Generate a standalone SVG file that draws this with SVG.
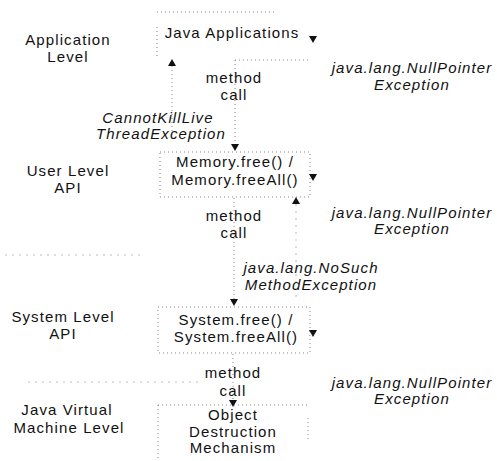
<svg xmlns="http://www.w3.org/2000/svg" width="497" height="461" viewBox="0 0 497 461">
<defs>
<style>
text{font-family:"Liberation Sans",Arial,sans-serif;font-size:15px;fill:#111;letter-spacing:1.1px}
.lv{text-anchor:middle}
.bx{text-anchor:middle}
.ex{font-style:italic;text-anchor:middle}
.dot{fill:none;stroke:#888;stroke-width:1;stroke-dasharray:1 3}
.faint{fill:none;stroke:#bbb;stroke-width:1;stroke-dasharray:2 5}
</style>
<polygon id="dn" points="-4,-4 4,-4 0,3" fill="#111"/>
<polygon id="up" points="-4,4 4,4 0,-3" fill="#111"/>
</defs>
<rect width="497" height="461" fill="#fff"/>

<g id="levels">
<text class="lv" x="68" y="45">Application</text>
<text class="lv" x="68" y="62">Level</text>
<text class="lv" x="68" y="176">User Level</text>
<text class="lv" x="68" y="193">API</text>
<text class="lv" x="63" y="322">System Level</text>
<text class="lv" x="63" y="339">API</text>
<text class="lv" x="67" y="415">Java Virtual</text>
<text class="lv" x="69" y="433">Machine Level</text>
</g>

<g id="separators">
<line class="faint" x1="5" y1="255" x2="145" y2="255"/>
<line class="faint" x1="28" y1="382" x2="203" y2="382"/>
</g>

<g id="node-java-applications">
<path class="dot" d="M157,12 H277 M157,27 V58"/>
<text class="bx" x="232" y="38">Java Applications</text>
</g>

<g id="node-memory">
<rect class="dot" x="160" y="152" width="150" height="45"/>
<text class="bx" x="235" y="167">Memory.free() /</text>
<text class="bx" x="235" y="185">Memory.freeAll()</text>
</g>

<g id="node-system">
<rect class="dot" x="158" y="307" width="152" height="46"/>
<text class="bx" x="236" y="325">System.free() /</text>
<text class="bx" x="236" y="342">System.freeAll()</text>
</g>

<g id="node-object-destruction">
<path class="dot" d="M158,405 H308 M158,405 V458 M308,418 V440"/>
<text class="bx" x="233" y="420">Object</text>
<text class="bx" x="233" y="437">Destruction</text>
<text class="bx" x="233" y="453">Mechanism</text>
</g>

<g id="connectors">
<path class="dot" d="M235,60 H308 M235,60 V146"/>
<use href="#dn" x="235" y="148"/>
<path class="dot" d="M172,66 V140"/>
<use href="#up" x="172" y="62"/>
<use href="#dn" x="313" y="40"/>
<path class="dot" d="M234,198 V300"/>
<use href="#dn" x="234" y="303"/>
<use href="#dn" x="313" y="178"/>
<path class="faint" d="M296,204 V300"/>
<use href="#up" x="296" y="200"/>
<use href="#dn" x="313" y="334"/>
<path class="dot" d="M233,354 V401"/>
<use href="#dn" x="233" y="404"/>
</g>

<g id="labels">
<text class="bx" x="234" y="83">method</text>
<text class="bx" x="234" y="100">call</text>
<text class="bx" x="234" y="221">method</text>
<text class="bx" x="234" y="238">call</text>
<text class="bx" x="233" y="378">method</text>
<text class="bx" x="233" y="396">call</text>
<text class="ex" x="158" y="123">CannotKillLive</text>
<text class="ex" x="161" y="139">ThreadException</text>
<text class="ex" x="412" y="73">java.lang.NullPointer</text>
<text class="ex" x="412" y="90">Exception</text>
<text class="ex" x="412" y="218">java.lang.NullPointer</text>
<text class="ex" x="412" y="234">Exception</text>
<text class="ex" x="311" y="273">java.lang.NoSuch</text>
<text class="ex" x="311" y="290">MethodException</text>
<text class="ex" x="412" y="388">java.lang.NullPointer</text>
<text class="ex" x="412" y="404">Exception</text>
</g>
</svg>
